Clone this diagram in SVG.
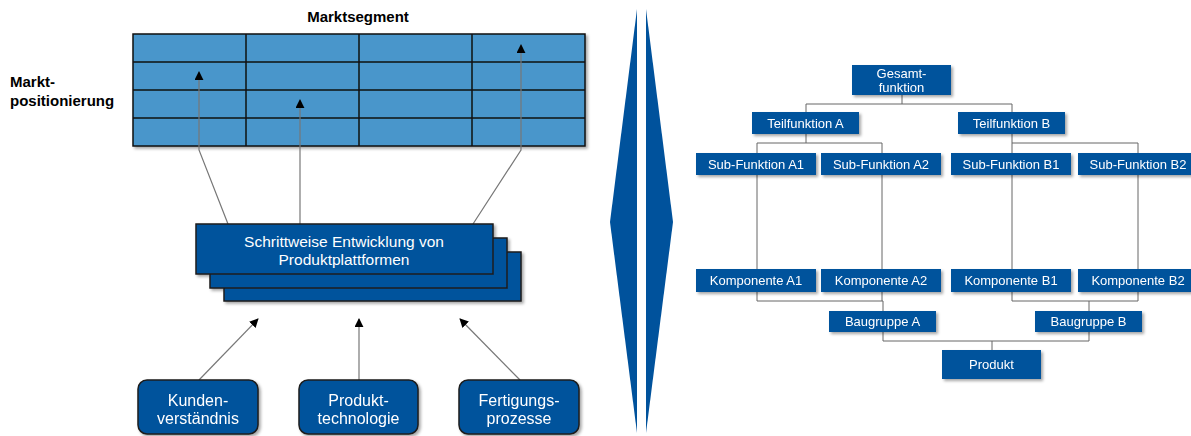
<svg xmlns="http://www.w3.org/2000/svg" width="1191" height="436" viewBox="0 0 1191 436">
<style>
.t{font-family:"Liberation Sans",Arial,sans-serif;fill:#fff;text-anchor:middle}
.b{font-family:"Liberation Sans",Arial,sans-serif;font-weight:bold;fill:#000}
.box{fill:#00529C;stroke:#1c1c1c;stroke-width:1.5}
.tb{fill:#00529C}
.ln{stroke:#666;stroke-width:1;fill:none}
.cl{stroke:#777;stroke-width:1.2;fill:none}
.grid{fill:#4A96CB;stroke:#111;stroke-width:1.5}
</style>
<defs>
<filter id="sh" x="-10%" y="-10%" width="130%" height="140%">
<feDropShadow dx="2" dy="2" stdDeviation="1.5" flood-color="#000" flood-opacity="0.35"/>
</filter>
<marker id="ah" viewBox="0 0 10 10" refX="9" refY="5" markerWidth="9" markerHeight="9" markerUnits="userSpaceOnUse" orient="auto">
<path d="M0,0 L10,5 L0,10 z" fill="#000"/>
</marker>
</defs>

<!-- grid -->
<g id="grid" filter="url(#sh)">
<rect class="grid" x="133" y="34" width="452" height="112"/>
<path d="M246,34 V146 M359,34 V146 M472,34 V146 M133,62 H585 M133,90 H585 M133,118 H585" stroke="#111" stroke-width="1.5" fill="none"/>
</g>
<text class="b" x="358" y="22" font-size="15" text-anchor="middle">Marktsegment</text>
<text class="b" x="10" y="87" font-size="15">Markt-</text>
<text class="b" x="10" y="106" font-size="15">positionierung</text>

<!-- left connectors -->
<g id="connectors-left">
<path class="cl" d="M228,224 L199,150 V72" marker-end="url(#ah)"/>
<path class="cl" d="M300,224 V100" marker-end="url(#ah)"/>
<path class="cl" d="M473,224 L521,150 V45" marker-end="url(#ah)"/>
<path class="cl" d="M199,380 L258,319" marker-end="url(#ah)"/>
<path class="cl" d="M359,380 V319" marker-end="url(#ah)"/>
<path class="cl" d="M520,380 L460,319" marker-end="url(#ah)"/>
</g>

<!-- platform stack -->
<g id="platform" filter="url(#sh)">
<rect class="box" x="224" y="252" width="297" height="49"/>
<rect class="box" x="210" y="238" width="297" height="50"/>
<rect class="box" x="196" y="224" width="297" height="50"/>
</g>
<text class="t" x="344" y="247" font-size="15.5">Schrittweise Entwicklung von</text>
<text class="t" x="344" y="265" font-size="15.5">Produktplattformen</text>

<g id="kunden" filter="url(#sh)">
<rect class="box" x="138" y="380" width="120" height="54" rx="9"/>
<text class="t" x="198" y="406" font-size="16">Kunden-</text>
<text class="t" x="198" y="424" font-size="16">verständnis</text>
</g>
<g id="produkttech" filter="url(#sh)">
<rect class="box" x="299" y="380" width="119" height="54" rx="9"/>
<text class="t" x="358.5" y="406" font-size="16">Produkt-</text>
<text class="t" x="358.5" y="424" font-size="16">technologie</text>
</g>
<g id="fertigung" filter="url(#sh)">
<rect class="box" x="459" y="380" width="120" height="54" rx="9"/>
<text class="t" x="519" y="406" font-size="16">Fertigungs-</text>
<text class="t" x="519" y="424" font-size="16">prozesse</text>
</g>

<!-- divider -->
<g id="divider" fill="#00529C">
<polygon points="637,9 610,222 637,433"/>
<polygon points="646,9 673,222 646,433"/>
</g>

<!-- tree connectors -->
<g id="connectors-tree">
<path class="ln" d="M902,95 V104 M806,112 V104 H1012 V112"/>
<path class="ln" d="M806,134 V143 M757,153 V143 H882 V153"/>
<path class="ln" d="M1012,134 V153 M1012,143 H1138 V153"/>
<path class="ln" d="M757,175 V269 M882,175 V269 M1012,175 V269 M1138,175 V269"/>
<path class="ln" d="M757,292 V301 H883 V311 M882,292 V301"/>
<path class="ln" d="M1012,292 V301 H1138 V292 M1089,301 V311"/>
<path class="ln" d="M883,332 V341 H1089 V332 M992,341 V350"/>
</g>

<g id="gesamt" filter="url(#sh)"><rect class="tb" x="852" y="65" width="99" height="30"/>
<text class="t" x="901.5" y="78" font-size="13">Gesamt-</text><text class="t" x="901.5" y="92" font-size="13">funktion</text></g>
<g id="teilA" filter="url(#sh)"><rect class="tb" x="752" y="112" width="107" height="22"/>
<text class="t" x="805.5" y="128" font-size="13">Teilfunktion A</text></g>
<g id="teilB" filter="url(#sh)"><rect class="tb" x="958" y="112" width="107" height="22"/>
<text class="t" x="1011.5" y="128" font-size="13">Teilfunktion B</text></g>

<g id="subA1" filter="url(#sh)"><rect class="tb" x="696" y="153" width="120" height="22"/>
<text class="t" x="756" y="168.5" font-size="13">Sub-Funktion A1</text></g>
<g id="subA2" filter="url(#sh)"><rect class="tb" x="821" y="153" width="120" height="22"/>
<text class="t" x="881" y="168.5" font-size="13">Sub-Funktion A2</text></g>
<g id="subB1" filter="url(#sh)"><rect class="tb" x="951" y="153" width="120" height="22"/>
<text class="t" x="1011" y="168.5" font-size="13">Sub-Funktion B1</text></g>
<g id="subB2" filter="url(#sh)"><rect class="tb" x="1078" y="153" width="120" height="22"/>
<text class="t" x="1138" y="168.5" font-size="13">Sub-Funktion B2</text></g>

<g id="kompA1" filter="url(#sh)"><rect class="tb" x="696" y="269" width="120" height="23"/>
<text class="t" x="756" y="285" font-size="13">Komponente A1</text></g>
<g id="kompA2" filter="url(#sh)"><rect class="tb" x="821" y="269" width="120" height="23"/>
<text class="t" x="881" y="285" font-size="13">Komponente A2</text></g>
<g id="kompB1" filter="url(#sh)"><rect class="tb" x="951" y="269" width="120" height="23"/>
<text class="t" x="1011" y="285" font-size="13">Komponente B1</text></g>
<g id="kompB2" filter="url(#sh)"><rect class="tb" x="1078" y="269" width="120" height="23"/>
<text class="t" x="1138" y="285" font-size="13">Komponente B2</text></g>

<g id="bgA" filter="url(#sh)"><rect class="tb" x="829" y="311" width="107" height="21"/>
<text class="t" x="882.5" y="326" font-size="13">Baugruppe A</text></g>
<g id="bgB" filter="url(#sh)"><rect class="tb" x="1035" y="311" width="107" height="21"/>
<text class="t" x="1088.5" y="326" font-size="13">Baugruppe B</text></g>
<g id="produkt" filter="url(#sh)"><rect class="tb" x="942" y="350" width="99" height="29"/>
<text class="t" x="991.5" y="369" font-size="13">Produkt</text></g>
</svg>
